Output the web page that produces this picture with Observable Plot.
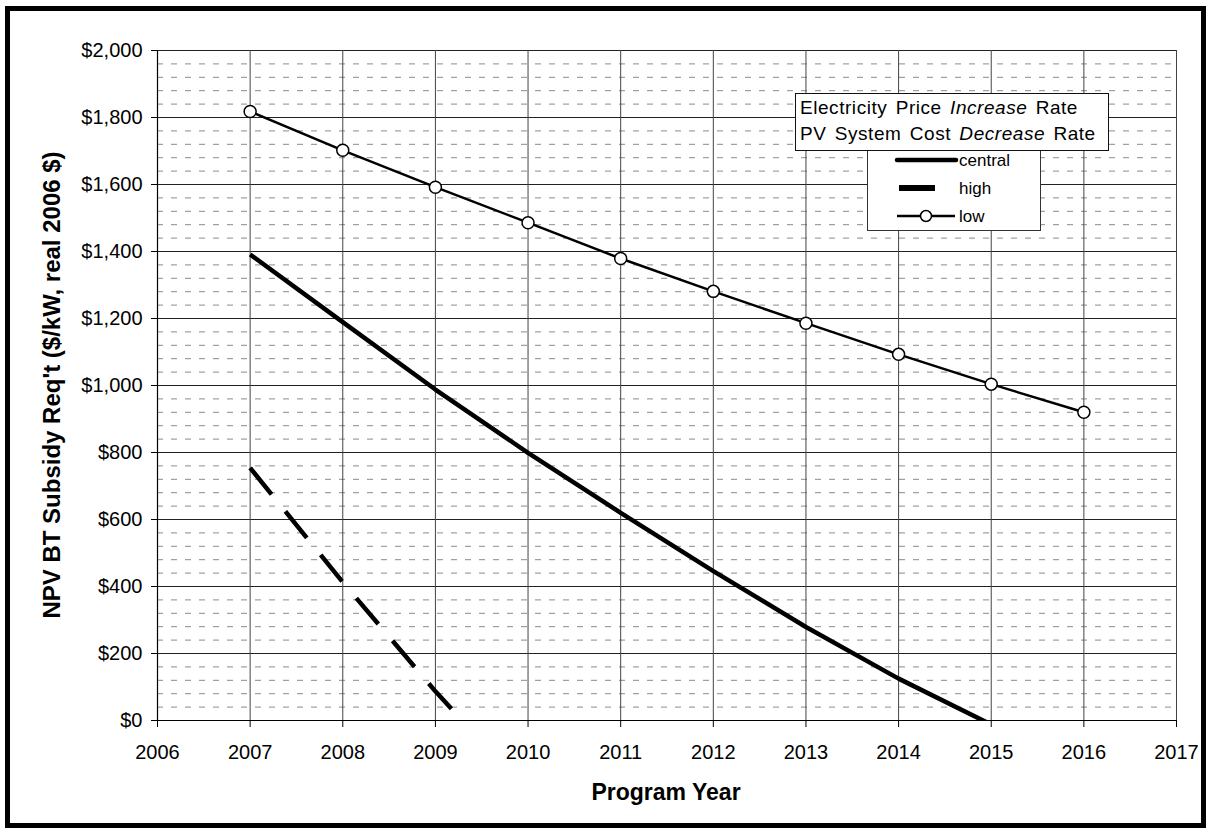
<!DOCTYPE html>
<html>
<head>
<meta charset="utf-8">
<script src="https://cdn.jsdelivr.net/npm/d3@7"></script>
<script src="https://cdn.jsdelivr.net/npm/@observablehq/plot@0.6"></script>
<style>
  body { margin: 0; background: #fff; font-family: "Liberation Sans", Arial, sans-serif; }
  #wrap { position: relative; width: 1211px; height: 834px; overflow: hidden; background: #fff; }
  #wrap > svg { position: absolute; left: 0; top: 0; }
  #border { position: absolute; left: 5px; top: 6px; width: 1201px; height: 822px; border: 5px solid #000; box-sizing: border-box; pointer-events: none; }
  .ytitle { position: absolute; left: 52px; top: 385px; transform: translate(-50%, -50%) rotate(-90deg); font-weight: bold; font-size: 24px; white-space: nowrap; color: #000; }
  .xtitle { position: absolute; left: 666px; top: 792px; transform: translate(-50%, -50%); font-weight: bold; font-size: 23px; white-space: nowrap; color: #000; }
  #legTitle { position: absolute; left: 795px; top: 93px; width: 314px; height: 58px; border: 1.5px solid #111; box-sizing: border-box; background: #fff; font-size: 19px; line-height: 26px; padding: 1px 0 0 4px; white-space: nowrap; color: #000; z-index: 2; letter-spacing: 0.55px; word-spacing: 2.5px; }
  #legBox { position: absolute; left: 867px; top: 150px; width: 174px; height: 81px; border: 1px solid #333; box-sizing: border-box; background: #fff; z-index: 1; }
</style>
</head>
<body>
<div id="wrap">
  <div id="border"></div>
</div>
<script>
// ---- data ----
const years = [2007, 2008, 2009, 2010, 2011, 2012, 2013, 2014, 2015, 2016];
const lowValues = [1818, 1702, 1592, 1486, 1379, 1281, 1186, 1093, 1004, 920];
const centralYears = [2007, 2008, 2009, 2010, 2011, 2012, 2013, 2014, 2015];
const centralValues = [1391, 1189, 988, 799, 620, 446, 279, 125, -12];
const highYears = [2007, 2008, 2009, 2010];
const highValues = [754, 413, 87, -215];
const xTicks = [2006, 2007, 2008, 2009, 2010, 2011, 2012, 2013, 2014, 2015, 2016, 2017];
const yTicks = [0, 200, 400, 600, 800, 1000, 1200, 1400, 1600, 1800, 2000];
const yMinor = d3.range(0, 2001, 40).filter(d => d % 200 !== 0);
const seriesNames = ["central", "high", "low"];
const legendTitle1 = ["Electricity Price ", "Increase", " Rate"];
const legendTitle2 = ["PV System Cost ", "Decrease", " Rate"];
const xTitle = "Program Year";
const yTitle = "NPV BT Subsidy Req't ($/kW, real 2006 $)";

const low = years.map((x, i) => ({x, y: lowValues[i]}));
const central = centralYears.map((x, i) => ({x, y: centralValues[i]}));
const high = highYears.map((x, i) => ({x, y: highValues[i]}));

const chart = Plot.plot({
  width: 1211,
  height: 834,
  marginLeft: 157,
  marginRight: 35,
  marginTop: 50,
  marginBottom: 114,
  style: { fontFamily: "'Liberation Sans', Arial, sans-serif", color: "#000", background: "transparent" },
  x: { domain: [2006, 2017] },
  y: { domain: [0, 2000] },
  marks: [
    Plot.gridY(yMinor, { stroke: "#8a8a8a", strokeOpacity: 1, strokeWidth: 1, strokeDasharray: "6,8" }),
    Plot.gridY(yTicks, { stroke: "#222", strokeOpacity: 1, strokeWidth: 1 }),
    Plot.gridX(xTicks, { stroke: "#444", strokeOpacity: 1, strokeWidth: 1 }),
    Plot.ruleX([2006], { stroke: "#000", strokeWidth: 1.2 }),
    Plot.ruleY([0], { stroke: "#000", strokeWidth: 1.2 }),
    Plot.axisY({ ticks: yTicks, tickFormat: d => "$" + d3.format(",")(d), tickSize: 6, tickPadding: 9, fontSize: 20, label: null }),
    Plot.axisX({ ticks: xTicks, tickFormat: d => String(d), tickSize: 7, tickPadding: 17, fontSize: 20, label: null }),
    Plot.line(high, { x: "x", y: "y", stroke: "#000", strokeWidth: 4.5, strokeDasharray: "34,22", strokeLinecap: "butt", clip: true }),
    Plot.line(central, { x: "x", y: "y", stroke: "#000", strokeWidth: 4.5, strokeLinecap: "butt", clip: true }),
    Plot.line(low, { x: "x", y: "y", stroke: "#000", strokeWidth: 2.5 }),
    Plot.dot(low, { x: "x", y: "y", r: 6, fill: "#fff", stroke: "#000", strokeWidth: 1.5 })
  ]
});
const wrap = document.getElementById("wrap");
wrap.insertBefore(chart, wrap.firstChild);

// axis titles
const yt = document.createElement("div"); yt.className = "ytitle"; yt.textContent = yTitle; wrap.appendChild(yt);
const xt = document.createElement("div"); xt.className = "xtitle"; xt.textContent = xTitle; wrap.appendChild(xt);

// legend title box
const lt = document.createElement("div"); lt.id = "legTitle";
function titleLine(parts) {
  const d = document.createElement("div");
  parts.forEach((p, i) => { const s = document.createElement(i === 1 ? "i" : "span"); s.textContent = p; d.appendChild(s); });
  return d;
}
lt.appendChild(titleLine(legendTitle1));
lt.appendChild(titleLine(legendTitle2));
wrap.appendChild(lt);

// legend entries box
const lb = document.createElement("div"); lb.id = "legBox";
const ns = "http://www.w3.org/2000/svg";
const ls = document.createElementNS(ns, "svg");
ls.setAttribute("width", 172); ls.setAttribute("height", 79);
ls.style.position = "absolute"; ls.style.left = "0"; ls.style.top = "0";
function el(tag, attrs) { const e = document.createElementNS(ns, tag); for (const k in attrs) e.setAttribute(k, attrs[k]); ls.appendChild(e); return e; }
const rowsY = [9, 37, 65];
// central
el("line", { x1: 29, x2: 88, y1: rowsY[0], y2: rowsY[0], stroke: "#000", "stroke-width": 4.5, "stroke-linecap": "round" });
// high
el("line", { x1: 31, x2: 67, y1: rowsY[1], y2: rowsY[1], stroke: "#000", "stroke-width": 6 });
// low
el("line", { x1: 29, x2: 87, y1: rowsY[2], y2: rowsY[2], stroke: "#000", "stroke-width": 2.5 });
el("circle", { cx: 58, cy: rowsY[2], r: 5.5, fill: "#fff", stroke: "#000", "stroke-width": 1.5 });
seriesNames.forEach((n, i) => {
  const t = el("text", { x: 91, y: rowsY[i], dy: "0.35em", "font-size": 17, fill: "#000", "font-family": "'Liberation Sans', Arial, sans-serif" });
  t.textContent = n;
});
lb.appendChild(ls);
wrap.appendChild(lb);
</script>
</body>
</html>
